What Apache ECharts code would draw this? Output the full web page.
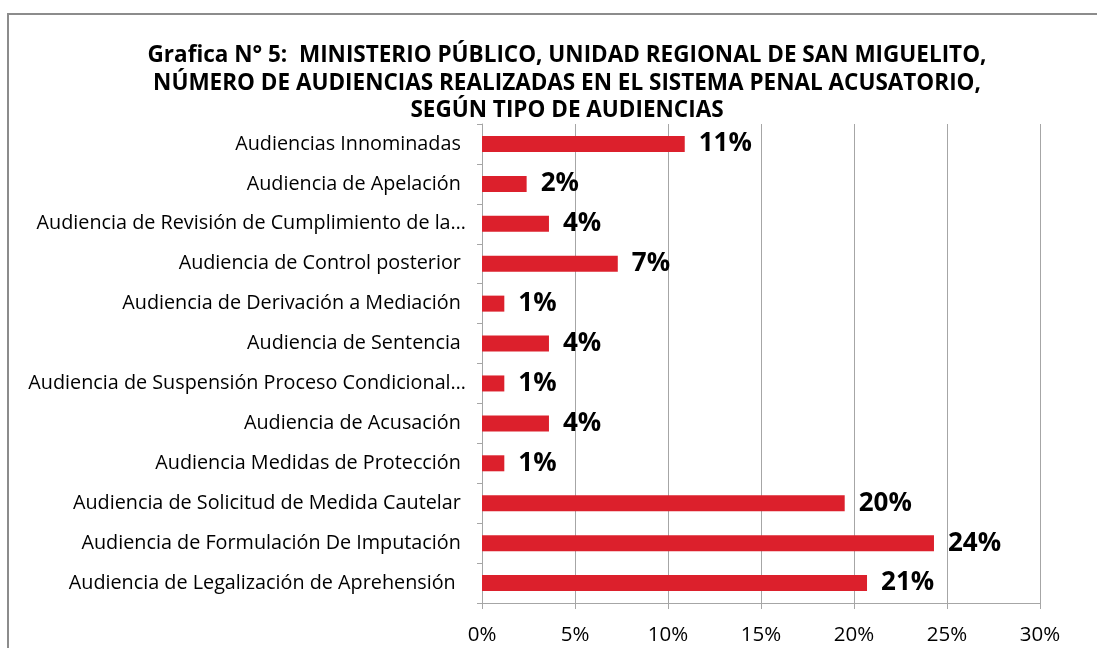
<!DOCTYPE html>
<html lang="es">
<head>
<meta charset="UTF-8" />
<title>Grafica N° 5</title>
<style>
  html, body { margin: 0; padding: 0; background: #ffffff; }
  #chart { width: 1097px; height: 648px; }
</style>
</head>
<body>
<div id="chart"></div>
<script src="https://cdn.jsdelivr.net/npm/echarts@6/dist/echarts.min.js"></script>
<script>
  // tipos de audiencia (de arriba hacia abajo)
  const categorias = [
    'Audiencias Innominadas ',
    'Audiencia de Apelación ',
    'Audiencia de Revisión de Cumplimiento de la…',
    'Audiencia de Control posterior ',
    'Audiencia de Derivación a Mediación ',
    'Audiencia de Sentencia ',
    'Audiencia de Suspensión Proceso Condicional…',
    'Audiencia de Acusación ',
    'Audiencia Medidas de Protección ',
    'Audiencia de Solicitud de Medida Cautelar ',
    'Audiencia de Formulación De Imputación ',
    'Audiencia de Legalización de Aprehensión  '
  ];
  // porcentaje de audiencias
  const porcentajes = [10.9, 2.4, 3.6, 7.3, 1.2, 3.6, 1.2, 3.6, 1.2, 19.5, 24.3, 20.7];
  const ticksX = [0, 5, 10, 15, 20, 25, 30];

  const chart = echarts.init(document.getElementById('chart'));
  chart.setOption({
    animation: false,
    title: {
      text: 'Grafica N° 5:  MINISTERIO PÚBLICO, UNIDAD REGIONAL DE SAN MIGUELITO,\nNÚMERO DE AUDIENCIAS REALIZADAS EN EL SISTEMA PENAL ACUSATORIO,\nSEGÚN TIPO DE AUDIENCIAS',
      left: 562,
      top: 37,
      textAlign: 'center',
      textStyle: {
        fontFamily: 'Open Sans',
        fontWeight: 'bold',
        fontSize: 22.5,
        lineHeight: 27.5,
        color: '#000'
      }
    },
    graphic: [{
      type: 'rect',
      shape: { x: 8, y: 14, width: 1200, height: 700 },
      style: { fill: 'none', stroke: '#8c8c8c', lineWidth: 2 },
      z: -1
    }],
    grid: { left: 482, right: 57, top: 124, bottom: 45 },
    xAxis: {
      type: 'value',
      min: 0,
      max: 30,
      interval: 5,
      axisLine: { show: true, lineStyle: { color: '#a6a6a6' } },
      axisTick: { show: true, length: 6, lineStyle: { color: '#a6a6a6' } },
      splitLine: { show: true, lineStyle: { color: '#a6a6a6', width: 1 } },
      axisLabel: {
        formatter: v => ticksX.includes(v) ? v + '%' : '',
        fontFamily: 'Open Sans',
        fontSize: 20.5,
        color: '#000',
        margin: 22
      }
    },
    yAxis: {
      type: 'category',
      inverse: true,
      data: categorias,
      axisLine: { show: true, lineStyle: { color: '#a6a6a6' } },
      axisTick: { show: true, length: 5, lineStyle: { color: '#a6a6a6' } },
      axisLabel: {
        fontFamily: 'Open Sans',
        fontSize: 19.8,
        color: '#000',
        margin: 16
      }
    },
    series: [{
      type: 'bar',
      data: porcentajes,
      barWidth: 16,
      itemStyle: { color: '#dc202c' },
      label: {
        show: true,
        position: 'right',
        distance: 14,
        formatter: p => Math.round(p.value) + '%',
        fontFamily: 'Open Sans',
        fontWeight: 'bold',
        fontSize: 26,
        color: '#000'
      }
    }]
  });
</script>
</body>
</html>
